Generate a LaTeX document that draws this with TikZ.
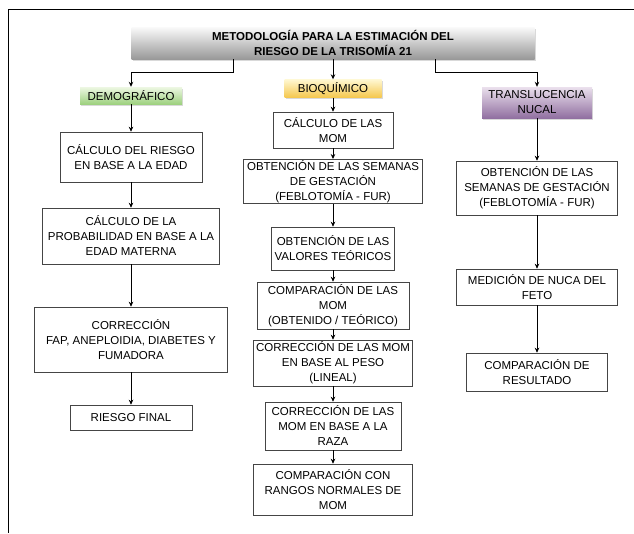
\documentclass[tikz,border=0pt]{standalone}
\usepackage{fontspec}
\setmainfont{Liberation Sans}
\usetikzlibrary{arrows.meta,shadows}

\definecolor{fafafa}{rgb}{0.98, 0.98, 0.98}
\definecolor{zzzzzz}{rgb}{0.6, 0.6, 0.6}
\definecolor{eeffdd}{rgb}{0.93, 0.97, 0.89}
\definecolor{zzccxx}{rgb}{0.62, 0.82, 0.5}
\definecolor{ffffcc}{rgb}{1, 0.97, 0.82}
\definecolor{ffccuu}{rgb}{0.96, 0.78, 0.3}
\definecolor{eeddee}{rgb}{0.92, 0.88, 0.93}
\definecolor{zzxxaa}{rgb}{0.57, 0.44, 0.63}
\definecolor{uuuuuu}{rgb}{0.27, 0.27, 0.27}

\begin{document}
\begin{tikzpicture}[x=1pt, y=-1pt,
    caja/.style={draw=uuuuuu, line width=0.6pt, align=center, inner sep=1pt,
        font=\fontsize{11.5}{15}\selectfont},
    cabecera/.style={align=center, inner sep=1pt, font=\fontsize{11.5}{15}\selectfont,
        drop shadow={opacity=0.3, shadow xshift=1pt, shadow yshift=-1.5pt}},
    flecha/.style={-{Stealth[length=5pt, width=4.5pt]}, line width=0.7pt}]
        \useasboundingbox (0, 0) rectangle (634, 533);
        \draw[line width=0.8pt] (634, 9.5) -- (8, 9.5) -- (8, 533); % marco

        % titulo
        \node[cabecera, top color=fafafa, bottom color=zzzzzz, minimum width=403pt, minimum height=32pt,
            font=\fontsize{11.5}{15}\selectfont\bfseries] (titulo) at (333, 43)
            {METODOLOGÍA PARA LA ESTIMACIÓN DEL\\RIESGO DE LA TRISOMÍA 21};

        \node[cabecera, top color=eeffdd, bottom color=zzccxx, minimum width=102pt, minimum height=17pt] (demo) at (131, 95.5) {DEMOGRÁFICO};
        \node[cabecera, top color=ffffcc, bottom color=ffccuu, minimum width=97pt, minimum height=18pt] (bio) at (333, 88.5) {BIOQUÍMICO};
        \node[cabecera, top color=eeddee, bottom color=zzxxaa, minimum width=110pt, minimum height=31pt] (tn) at (537, 102.5) {TRANSLUCENCIA\\NUCAL};

        % columna demografico
        \node[caja, minimum width=142pt, minimum height=50pt] (riesgo) at (131, 157) {CÁLCULO DEL RIESGO\\EN BASE A LA EDAD};
        \node[caja, minimum width=177pt, minimum height=56pt] (probab) at (131, 236) {CÁLCULO DE LA\\PROBABILIDAD EN BASE A LA\\EDAD MATERNA};
        \node[caja, minimum width=193pt, minimum height=65pt] (correc) at (131, 339.5) {CORRECCIÓN\\FAP, ANEPLOIDIA, DIABETES Y\\FUMADORA};
        \node[caja, minimum width=122pt, minimum height=25pt] (final) at (131, 417.5) {RIESGO FINAL};

        % columna bioquimico
        \node[caja, minimum width=120pt, minimum height=36pt] (mom) at (333, 130) {CÁLCULO DE LAS\\MOM};
        \node[caja, minimum width=179pt, minimum height=41pt] (semanas) at (333, 181.5) {OBTENCIÓN DE LAS SEMANAS\\DE GESTACIÓN\\(FEBLOTOMÍA - FUR)};
        \node[caja, minimum width=123pt, minimum height=43pt] (valores) at (333, 248.5) {OBTENCIÓN DE LAS\\VALORES TEÓRICOS};
        \node[caja, minimum width=152pt, minimum height=47pt] (compmom) at (333, 305.5) {COMPARACIÓN DE LAS\\MOM\\(OBTENIDO / TEÓRICO)};
        \node[caja, minimum width=159pt, minimum height=46pt] (peso) at (333, 363) {CORRECCIÓN DE LAS MOM\\EN BASE AL PESO\\(LINEAL)};
        \node[caja, minimum width=136pt, minimum height=48pt] (raza) at (333, 426) {CORRECCIÓN DE LAS\\MOM EN BASE A LA\\RAZA};
        \node[caja, minimum width=159pt, minimum height=51pt] (rangos) at (333, 489.5) {COMPARACIÓN CON\\RANGOS NORMALES DE\\MOM};

        % columna translucencia
        \node[caja, minimum width=161pt, minimum height=54pt] (semanastn) at (537, 188) {OBTENCIÓN DE LAS\\SEMANAS DE GESTACIÓN\\(FEBLOTOMÍA - FUR)};
        \node[caja, minimum width=161pt, minimum height=36pt] (nuca) at (537, 287) {MEDICIÓN DE NUCA DEL\\FETO};
        \node[caja, minimum width=141pt, minimum height=38pt] (result) at (537, 372) {COMPARACIÓN DE\\RESULTADO};

        % ramas del titulo
        \coordinate (ji) at (233, 72);
        \coordinate (jd) at (435, 72);
        \draw[flecha] (titulo.south -| ji) -- (ji) -| (demo.north);
        \draw[flecha] (titulo.south -| jd) -- (jd) -| (tn.north);
        \draw[flecha] (titulo) -- (bio);

        \foreach \a/\b in {demo/riesgo, riesgo/probab, probab/correc, correc/final,
            bio/mom, mom/semanas, semanas/valores, valores/compmom, compmom/peso, peso/raza, raza/rangos,
            tn/semanastn, semanastn/nuca, nuca/result}
        \draw[flecha] (\a) -- (\b);
    \end{tikzpicture}
\end{document}
